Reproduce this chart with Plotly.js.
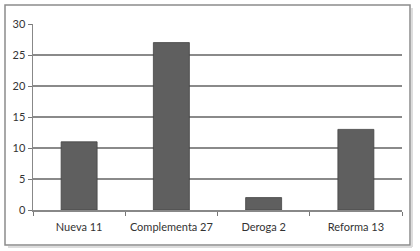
<!DOCTYPE html>
<html><head><meta charset="utf-8">
<script src="https://cdn.plot.ly/plotly-3.0.1.min.js"></script>
<style>html,body{margin:0;padding:0;background:#fff;}#chart{width:420px;height:251px;}</style>
</head><body><div id="chart"></div>
<script>
const categories = ["Nueva 11", "Complementa 27", "Deroga 2", "Reforma 13"];
const values = [11, 27, 2, 13];
const yTicks = [0, 5, 10, 15, 20, 25, 30];

const W = 420, H = 251;
const m = {l: 33, r: 18, t: 24, b: 41};
const pw = W - m.l - m.r, ph = H - m.t - m.b;
function px(x){ return (x - m.l) / pw; }
function py(y){ return (H - m.b - y) / ph; }

const trace = {
  type: 'bar', x: categories, y: values,
  marker: {color: '#5f5f5f', line: {color: '#444', width: 0.8}},
  width: 0.39, hoverinfo: 'none'
};
const layout = {
  width: W, height: H, margin: m,
  paper_bgcolor: '#fff', plot_bgcolor: '#fff',
  font: {family: 'Lato, "Open Sans", sans-serif', size: 11, color: '#333'},
  showlegend: false,
  xaxis: {
    type: 'category', tickson: 'boundaries', ticks: 'outside', ticklen: 4,
    tickcolor: '#777', showline: true, linecolor: '#888', linewidth: 1.5,
    showgrid: false, zeroline: false, fixedrange: true,
    ticklabelstandoff: 6,
    tickfont: {size: 11, color: '#333'}
  },
  yaxis: {
    range: [0, 30], tickvals: yTicks, ticks: 'outside', ticklen: 4,
    tickcolor: '#777', showline: true, linecolor: '#888', linewidth: 1.5,
    gridcolor: '#8a8a8a', gridwidth: 1.5, zeroline: false, fixedrange: true,
    tickfont: {size: 11, color: '#333'}
  },
  shapes: [
    {type: 'rect', xref: 'paper', yref: 'paper', layer: 'below',
     x0: px(5), x1: px(410), y0: py(5), y1: py(245),
     line: {color: '#8c8c8c', width: 1.5}, fillcolor: 'rgba(0,0,0,0)'},
    {type: 'line', xref: 'paper', yref: 'paper',
     x0: px(412), x1: px(412), y0: py(8), y1: py(247),
     line: {color: '#ddd', width: 2}},
    {type: 'line', xref: 'paper', yref: 'paper',
     x0: px(8), x1: px(412), y0: py(247), y1: py(247),
     line: {color: '#ddd', width: 2}}
  ]
};
Plotly.newPlot('chart', [trace], layout, {staticPlot: true, displayModeBar: false});
</script></body></html>
